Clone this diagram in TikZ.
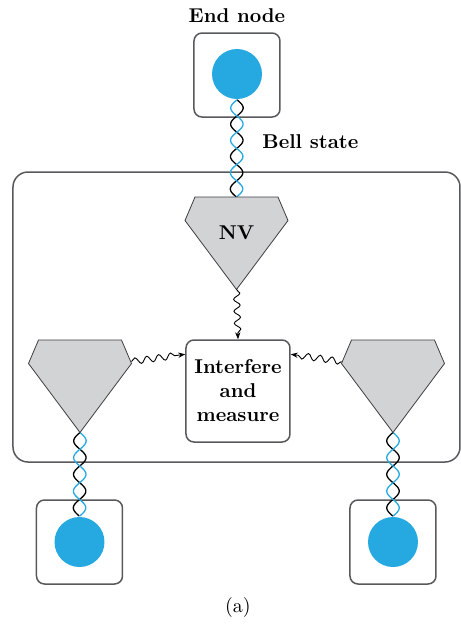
\documentclass[tikz,border=0pt]{standalone}
\definecolor{bellblue}{RGB}{38,169,224}
\definecolor{gemgray}{RGB}{209,211,212}
\definecolor{framegray}{RGB}{88,89,91}
\usepackage{tikz}
\usetikzlibrary{arrows.meta,positioning,calc,decorations.pathmorphing}
% twisted pair between two nodes: from, to, half periods, side of the black strand
\newcommand{\bellpair}[4]{%
    \foreach \c/\s in {black/1, bellblue/-1}
        \draw[strand, \c] let \p1=(#1), \p2=(#2) in plot[domain=0:1, samples=120, smooth, variable=\t] ({\x1+(\x2-\x1)*\t+#4*\s*3.1pt*sin(\t*#3*180)}, {\y1+(\y2-\y1)*\t});}

\begin{document}
\begin{tikzpicture}[x=0.5pt, y=-0.5pt, thick, every node/.style={font=\normalsize},
    endbox/.style={draw=framegray, line width=0.75pt, rounded corners=4pt, minimum width=43pt, minimum height=42pt},
    qubit/.style={circle, fill=bellblue, minimum size=25pt, inner sep=0pt},
    gem/.style={draw=framegray!70!black, fill=gemgray, line width=0.4pt},
    lbl/.style={font=\bfseries},
    photon/.style={-{Stealth[length=3.5pt]}, line width=0.45pt, decorate, decoration={snake, amplitude=1.6pt, segment length=6pt, post length=3pt}},
    strand/.style={line width=0.65pt}]
    \useasboundingbox (0,0) rectangle (461,629);

    % network frame
    \node[draw=framegray, line width=0.75pt, rounded corners=7.5pt, minimum width=223.5pt, minimum height=145pt] (net) at (236.5,317) {};

    % end nodes
    \node[endbox] (topbox) at (237,75) {};
    \node[qubit] (topq) at (237,74) {};
    \node[lbl, above=1pt of topbox] (endlbl) {End node};
    \node[endbox] (lbox) at (79.5,542) {};
    \node[qubit] (lq) at (lbox) {};
    \node[endbox] (rbox) at (393,542) {};
    \node[qubit] (rq) at (rbox) {};

    % NV centres
    \foreach \n/\x/\y in {nv/236.5/197, gl/80/340, gr/393/340}
        \path[shift={(\x,\y)}] (0,0) coordinate (\n) (51.5,23.5) coordinate (\n-r) (0,92.5) coordinate (\n-tip) (-51.5,23.5) coordinate (\n-l);

    % entanglement
    \bellpair{topq.south}{nv}{6}{1}
    \bellpair{gl-tip}{lq.north}{5}{-1}
    \bellpair{gr-tip}{rq.north}{5}{-1}
    \node[lbl, anchor=west] (bell) at (255,142) {Bell state};

    \foreach \n in {nv, gl, gr}
        \draw[gem] ($(\n)+(-41.5,0)$) -- ($(\n)+(41.5,0)$) -- (\n-r) -- (\n-tip) -- (\n-l) -- cycle;
    \node[lbl] (nvlbl) at ($(nv)+(0,36)$) {NV};

    \node[endbox, lbl, align=center, minimum width=52pt, minimum height=51pt] (iam) at (238,391) {Interfere\\and\\measure};

    % photons
    \draw[photon] (nv-tip) -- (iam.north);
    \draw[photon] ([yshift=1pt]gl-r) -- ([yshift=-7.5pt]iam.north west);
    \draw[photon] ([yshift=1pt]gr-l) -- ([yshift=-7.5pt]iam.north east);

    \node (cap) at (238,607) {(a)};
\end{tikzpicture}
\end{document}
